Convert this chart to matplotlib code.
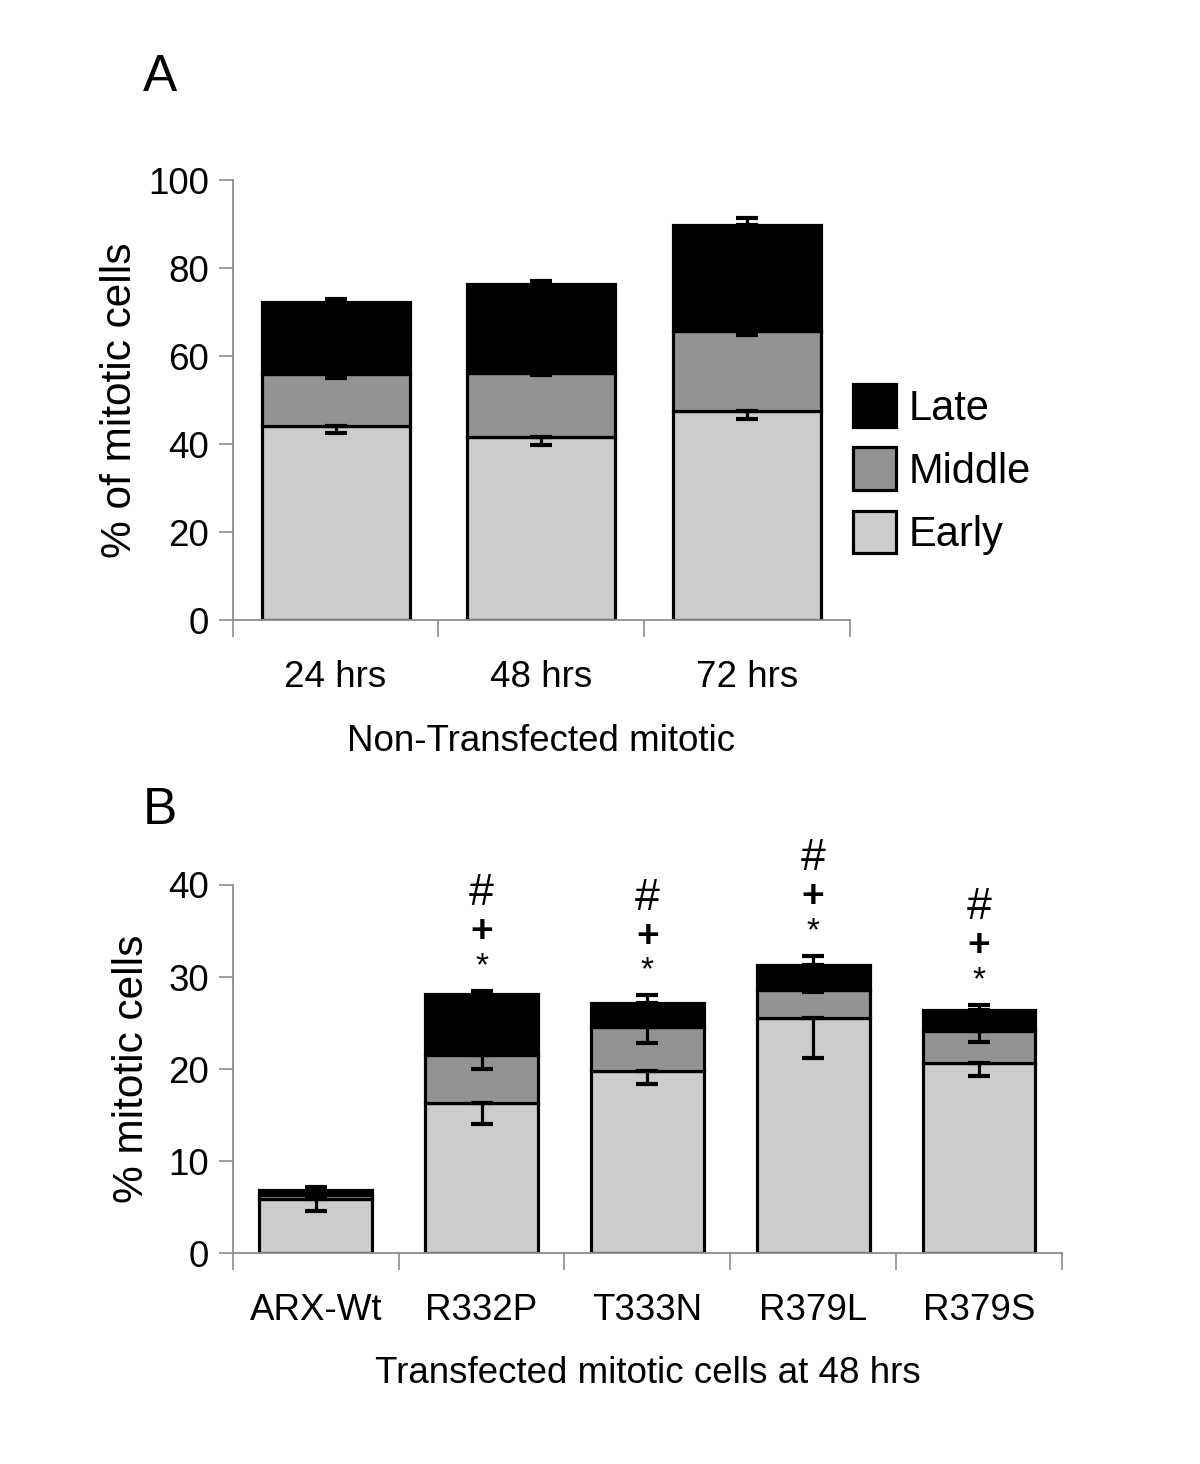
import matplotlib.pyplot as plt
import numpy as np

plt.rcParams['font.family'] = ['Liberation Sans', 'DejaVu Sans']

# Panel A: non-transfected, stacked stages (% of mitotic cells)
times = ["24 hrs", "48 hrs", "72 hrs"]
a_early = [44.1, 41.7, 47.5]
a_middle = [11.9, 14.5, 18.3]
a_late = [16.2, 20.1, 24.1]
a_err_early = [1.5, 1.9, 1.7]
a_err_middle = [0.9, 0.4, 1.0]
a_err_late = [0.8, 0.7, 1.4]

# Panel B: transfected at 48 hrs
constructs = ["ARX-Wt", "R332P", "T333N", "R379L", "R379S"]
b_early = [5.9, 16.3, 19.8, 25.5, 20.7]
b_middle = [0.4, 5.2, 4.8, 3.1, 3.4]
b_late = [0.55, 6.65, 2.6, 2.7, 2.3]
b_err_early = [1.3, 2.3, 1.4, 4.3, 1.5]
b_err_middle = [0.2, 1.5, 1.8, 0.2, 1.2]
b_err_late = [0.3, 0.35, 0.8, 1.0, 0.6]
b_signif = [False, True, True, True, True]

COLORS = {"Early": "#cccccc", "Middle": "#939393", "Late": "#000000"}
SPINE = "#8c8c8c"
TICK_FS = 26.5
LABEL_FS = 26.5
# symbol, fontsize, weight, offset above error bar (points)
MARKS = [("*", 24, "normal", 20), ("+", 28, "bold", 45), ("#", 32, "normal", 73)]


def stacked(ax, early, middle, late, errs, width):
    x = np.arange(len(early))
    e_err, m_err, l_err = errs
    early = np.array(early)
    mid_top = early + np.array(middle)
    top = mid_top + np.array(late)
    kw = dict(width=width, edgecolor="black", linewidth=2.3, zorder=2)
    ax.bar(x, early, color=COLORS["Early"], label="Early", **kw)
    ax.bar(x, middle, bottom=early, color=COLORS["Middle"], label="Middle", **kw)
    ax.bar(x, late, bottom=mid_top, color=COLORS["Late"], label="Late", **kw)
    ekw = dict(fmt="none", ecolor="black", elinewidth=2.3, capsize=8,
               capthick=3, zorder=3)
    ax.errorbar(x, early, yerr=[e_err, np.zeros(len(x))], **ekw)
    ax.errorbar(x, mid_top, yerr=[m_err, np.zeros(len(x))], **ekw)
    ax.errorbar(x, top, yerr=[np.zeros(len(x)), l_err], **ekw)
    return x, top + np.array(l_err)


def style(ax, n, labels, ymax, step):
    ax.set_xlim(-0.5, n - 0.5)
    ax.set_ylim(0, ymax)
    ax.set_yticks(np.arange(0, ymax + 1, step))
    ax.set_xticks(np.arange(-0.5, n, 1.0))
    ax.set_xticklabels([])
    ax.set_xticks(np.arange(n), minor=True)
    ax.set_xticklabels(labels, minor=True)
    ax.tick_params(axis="x", which="minor", length=0, pad=29, labelsize=TICK_FS)
    ax.tick_params(axis="x", which="major", length=12, color=SPINE, width=1.2)
    ax.tick_params(axis="y", length=10, color=SPINE, width=1.2,
                   labelsize=TICK_FS, pad=7)
    for s in ["top", "right"]:
        ax.spines[s].set_visible(False)
    for s in ["left", "bottom"]:
        ax.spines[s].set_color(SPINE)
        ax.spines[s].set_linewidth(1.3)


fig = plt.figure(figsize=(12, 14.64), dpi=100)

axA = fig.add_axes([0.194, 0.5765, 0.514, 0.3005])
stacked(axA, a_early, a_middle, a_late, (a_err_early, a_err_middle, a_err_late), 0.72)
style(axA, len(times), times, 100, 20)
axA.set_ylabel("% of mitotic cells", fontsize=30.5, labelpad=6)
axA.set_xlabel("Non-Transfected mitotic", fontsize=LABEL_FS, labelpad=21)
h, l = axA.get_legend_handles_labels()
axA.legend(h[::-1], l[::-1], loc="center left", bbox_to_anchor=(1.005, 0.342),
           frameon=False, fontsize=30, handlelength=1.05, handleheight=1.2,
           labelspacing=0.45, handletextpad=0.3, borderpad=0, borderaxespad=0)
fig.text(0.119, 0.938, "A", fontsize=37)

axB = fig.add_axes([0.194, 0.1441, 0.691, 0.2514])
x, tops = stacked(axB, b_early, b_middle, b_late,
                  (b_err_early, b_err_middle, b_err_late), 0.68)
style(axB, len(constructs), constructs, 40, 10)
axB.set_ylabel("% mitotic cells", fontsize=30.5, labelpad=12)
axB.set_xlabel("Transfected mitotic cells at 48 hrs", fontsize=LABEL_FS,
               labelpad=20)
for xi, t, sig in zip(x, tops, b_signif):
    if not sig:
        continue
    for sym, fs, fw, off in MARKS:
        axB.annotate(sym, (xi, t), xytext=(0, off), textcoords="offset points",
                     ha="center", va="center_baseline", fontsize=fs,
                     fontweight=fw, annotation_clip=False)
fig.text(0.119, 0.437, "B", fontsize=37)

fig.savefig("out.png", dpi=100)
